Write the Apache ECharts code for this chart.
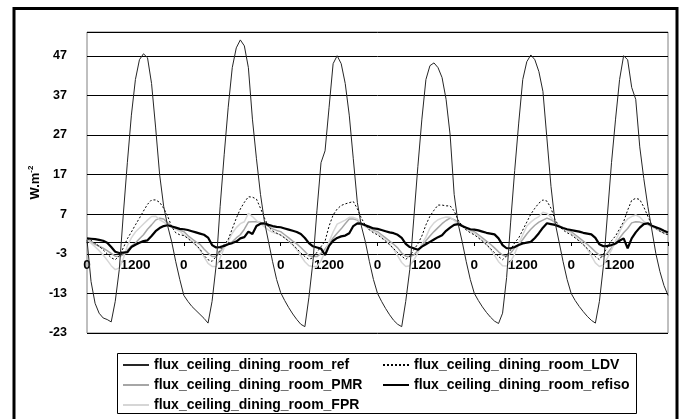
<!DOCTYPE html>
<html>
<head>
<meta charset="utf-8">
<script src="https://cdn.jsdelivr.net/npm/echarts@6/dist/echarts.min.js"></script>
<style>
  html, body { margin: 0; padding: 0; background: #fff; }
  #chart { width: 685px; height: 419px; }
</style>
</head>
<body>
<div id="chart"></div>
<script>
// hour labels of one day, repeated for the 6 days (+ closing midnight)
const hourLabels = ['0','100','200','300','400','500','600','700','800','900','1000','1100',
  '1200','1300','1400','1500','1600','1700','1800','1900','2000','2100','2200','2300'];
const categories = [];
for (let d = 0; d < 6; d++) categories.push(...hourLabels);
categories.push('0');

const yTicks = [-23, -13, -3, 7, 17, 27, 37, 47];

// W.m-2, one value per hour
const fluxRef = [
  0.5, -10, -15.5, -18, -19.2, -19.6, -20.2, -15, -7, 7, 20, 32, 41, 46, 47.5, 46.5, 40, 29, 17, 9, 4, 0, -5, -9.5,
  -13.5, -15, -16.3, -17.3, -18.3, -19.3, -20.5, -15, -6, 9, 22, 34, 44, 49, 51, 49.5, 44, 31, 21, 12, 5, 0, -5, -9.5,
  -12.8, -14.8, -16.6, -18.2, -19.6, -20.8, -21.4, -14, -5, 8, 20, 23, 34, 45, 47, 45, 40, 32, 21, 10, 4, 0, -5, -9.5,
  -13, -15, -16.8, -18.4, -19.8, -20.8, -21.4, -15, -7, 6, 19, 31, 41, 44.5, 45.2, 44, 41.5, 36, 27, 12, 4.5, 0, -5, -9.5,
  -13, -14.8, -16.4, -17.8, -19, -20, -20.6, -18, -9, 5, 18, 30, 41, 45.5, 47.2, 46, 43, 38, 26, 14, 5, 0, -5, -9.5,
  -13, -14.8, -16.3, -17.6, -18.8, -19.8, -20.5, -15, -6, 7, 20, 31, 41, 47, 46, 39, 36, 24, 16, 9, 3, -3, -7.5, -11,
  -13.5
];
const fluxLDV = [
  0.9, 0.4, -0.3, -1.1, -2.0, -3.0, -4.0, -4.5, -3.5, -1.5, 0.8, 2.5, 4.3, 6.0, 7.8, 9.5, 10.6, 10.6, 10.0, 8.5, 6.5, 3.8, 2.3, 1.8,
  1.6, 0.9, 0, -0.8, -1.8, -3.4, -4.5, -4.9, -3.7, -2.0, -0.6, 0.6, 3.3, 6.0, 8.3, 10.0, 11.4, 11.3, 10.8, 8.5, 6.0, 3.8, 2.8, 2.2,
  1.7, 1.0, 0.2, -0.7, -1.7, -2.8, -3.7, -4.4, -4.0, -2.6, -1.2, 0.2, 4.0, 6.8, 8.3, 9.2, 9.6, 9.9, 10.2, 8.4, 6.0, 4.2, 3.0, 2.3,
  1.8, 1.0, 0.2, -0.7, -1.7, -2.7, -3.6, -4.4, -3.6, -2.0, -0.5, 1.5, 4.3, 6.5, 8.0, 9.3, 9.3, 9.1, 9.1, 7.8, 5.5, 4.0, 3.0, 2.3,
  1.8, 1.0, 0.2, -0.7, -1.7, -2.7, -3.7, -4.5, -3.5, -2.0, -0.2, 1.0, 3.0, 5.0, 7.0, 8.5, 9.8, 10.6, 10.3, 8.5, 5.6, 4.0, 3.0, 2.3,
  1.8, 1.0, 0.2, -0.7, -1.7, -2.7, -3.7, -4.5, -3.0, -1.3, 0.3, 1.5, 3.3, 5.1, 8.0, 10.5, 11.0, 10.7, 8.8, 6.5, 4.2, 3.4, 2.7, 2.2,
  1.8
];
const fluxPMR = [
  0.5, 0, -0.6, -1.1, -1.6, -2.2, -2.9, -3.6, -3.7, -3.2, -2.1, -1.0, -0.3, 0.8, 1.8, 3.2, 4.3, 5.5, 6.0, 5.8, 4.8, 4.0, 3.3, 2.9,
  2.6, 1.6, 0.8, 0, -0.6, -1.8, -2.8, -3.7, -3.6, -2.5, -1.2, -0.5, 0, 1.0, 1.8, 3.2, 5.0, 5.1, 5.1, 4.9, 4.5, 3.9, 3.3, 2.9,
  2.6, 1.8, 1.0, 0.2, -0.5, -1.4, -2.4, -3.5, -3.7, -3.7, -2.9, -1.8, -0.5, 1.0, 2.2, 3.3, 4.6, 5.8, 5.8, 5.5, 4.6, 3.9, 3.3, 2.9,
  2.6, 1.8, 1.0, 0.2, -0.6, -1.5, -2.8, -3.6, -3.7, -3.3, -2.2, -1.0, 0.3, 1.5, 2.6, 3.6, 4.6, 5.4, 6.0, 5.6, 5.0, 4.2, 3.4, 2.9,
  2.6, 1.8, 1.0, 0.2, -0.6, -1.5, -2.5, -3.3, -3.7, -2.8, -1.5, -0.6, 0.6, 2.0, 3.2, 4.2, 5.0, 5.5, 6.0, 5.6, 4.9, 4.1, 3.4, 2.9,
  2.6, 1.8, 1.0, 0.2, -0.6, -1.5, -2.5, -3.3, -3.7, -2.8, -1.5, -0.4, 1.0, 2.3, 3.4, 4.8, 5.1, 5.0, 4.7, 4.4, 3.9, 3.4, 2.8, 2.3,
  2.0
];
const fluxRefiso = [
  0.9, 0.8, 0.7, 0.5, 0.3, -0.2, -1.3, -2.5, -2.8, -2.7, -2.6, -1.3, -0.7, -0.2, 0.2, 0.4, 1.5, 2.7, 3.5, 4.0, 4.2, 3.9, 3.6, 3.3,
  3.2, 3.0, 2.7, 2.4, 2.1, 1.8, 1.1, -0.8, -1.4, -1.3, -1.0, -0.6, -0.3, 0.1, 0.9, 1.2, 2.6, 2.0, 4.0, 4.6, 4.7, 4.3, 4.0, 3.8,
  3.7, 3.4, 3.1, 2.8, 2.5, 2.0, 1.0, -0.3, -1.1, -1.4, -1.7, -3.3, -1.0, 0.3, 1.0, 1.4, 1.6, 2.2, 4.0, 4.7, 4.6, 4.2, 3.8, 3.4,
  3.3, 3.0, 2.7, 2.4, 2.2, 1.8, 1.0, -0.5, -1.3, -1.6, -2.0, -1.2, -0.6, 0.0, 0.6, 1.2, 1.7, 2.8, 3.6, 4.3, 4.5, 4.0, 3.6, 3.2,
  3.1, 2.9, 2.6, 2.3, 2.1, 1.9, 0.9, -0.8, -1.6, -1.6, -1.3, -0.8, -0.4, -0.2, 0.0, 1.0, 2.2, 3.6, 4.7, 4.5, 4.3, 3.9, 3.5, 3.2,
  3.0, 2.8, 2.6, 2.3, 2.1, 1.9, 1.0, -0.6, -1.1, -1.0, -0.8, -0.4, 0.3, 0.9, -1.6, 0.9, 2.4, 3.6, 4.5, 4.7, 4.1, 3.7, 3.3, 2.8,
  2.4
];
const fluxFPR = [
  0.5, -0.3, -1.2, -2.2, -3.3, -4.6, -6.0, -7.0, -6.6, -4.2, -1.0, 1.0, 2.5, 3.5, 4.5, 5.5, 6.4, 6.5, 5.6, 5.0, 4.4, 3.8, 3.2, 2.7,
  1.8, 1.0, 0.2, -0.8, -2.0, -3.8, -5.4, -6.2, -6.2, -4.0, -1.5, 0.2, 2.2, 3.6, 4.6, 5.1, 7.2, 6.4, 5.4, 4.6, 3.8, 3.0, 2.4, 2.1,
  1.8, 1.0, 0.2, -0.8, -2.0, -3.5, -5.0, -6.0, -6.2, -6.2, -4.8, -2.5, 0.0, 2.5, 4.5, 5.0, 5.5, 6.2, 6.2, 5.8, 4.8, 4.0, 3.2, 2.6,
  2.2, 1.3, 0.4, -0.6, -1.8, -3.5, -5.2, -6.2, -6.0, -4.6, -2.8, -0.5, 1.2, 3.5, 4.8, 5.6, 6.0, 6.3, 6.2, 5.4, 4.6, 3.9, 3.2, 2.6,
  2.2, 1.3, 0.4, -0.6, -1.8, -3.4, -5.0, -6.0, -6.1, -5.0, -3.0, -0.5, 1.8, 4.0, 5.0, 5.8, 6.4, 7.5, 7.2, 6.2, 5.0, 4.2, 3.4, 2.7,
  2.2, 1.3, 0.4, -0.6, -1.8, -3.5, -5.3, -6.2, -5.8, -4.0, -2.0, 0.3, 2.5, 4.6, 5.8, 6.4, 6.8, 6.3, 5.2, 4.5, 3.8, 3.3, 2.7, 2.2,
  1.8
];

const FONT = '"Liberation Sans", Arial, sans-serif';
const N_REF = 'flux_ceiling_dining_room_ref';
const N_LDV = 'flux_ceiling_dining_room_LDV';
const N_PMR = 'flux_ceiling_dining_room_PMR';
const N_REFISO = 'flux_ceiling_dining_room_refiso';
const N_FPR = 'flux_ceiling_dining_room_FPR';

const chart = echarts.init(document.getElementById('chart'), null, { renderer: 'canvas' });

// two legend columns, rows 20px apart
const legendBase = {
  type: 'plain',
  orient: 'vertical',
  top: 358,
  padding: 0,
  itemWidth: 26,
  itemHeight: 14,
  itemGap: 6,
  selectedMode: false,
  itemStyle: { opacity: 0 },
  textStyle: { fontFamily: FONT, fontWeight: 'bold', fontSize: 14, lineHeight: 14, color: '#000' }
};

chart.setOption({
  animation: false,
  backgroundColor: '#fff',
  grid: {
    left: 87, right: 17, top: 32, bottom: 86,
    show: true, borderColor: '#808080', borderWidth: 1
  },
  legend: [
    Object.assign({ left: 122, data: [N_REF, N_PMR, N_FPR] }, legendBase),
    Object.assign({ left: 382, data: [N_LDV, N_REFISO] }, legendBase)
  ],
  xAxis: {
    type: 'category',
    data: categories,
    boundaryGap: false,
    position: 'bottom',
    offset: -91, // axis sits on y = 0
    axisLine: { onZero: false, lineStyle: { color: '#000', width: 1 } },
    axisTick: {
      show: true, length: 4,
      interval: (i) => i % 24 === 0,
      lineStyle: { color: '#000' }
    },
    axisLabel: {
      interval: (i) => i % 12 === 0 && i < 144,
      margin: 16,
      fontFamily: FONT, fontWeight: 'bold', fontSize: 13.5, color: '#000'
    },
    splitLine: { show: false }
  },
  yAxis: {
    type: 'value',
    min: -23, max: 53, interval: 10,
    name: '{a|W.m}{b|-2}',
    nameLocation: 'middle',
    nameGap: 44,
    nameMoveOverlap: false,
    nameTextStyle: {
      rich: {
        a: { fontFamily: FONT, fontWeight: 'bold', fontSize: 13, color: '#000', lineHeight: 16 },
        b: { fontFamily: FONT, fontWeight: 'bold', fontSize: 8, color: '#000', lineHeight: 16, verticalAlign: 'top' }
      }
    },
    axisLine: { show: false },
    axisTick: { show: false },
    axisLabel: {
      showMaxLabel: false,
      margin: 20,
      formatter: (v) => (yTicks.indexOf(v) >= 0 ? String(v) : ''),
      fontFamily: FONT, fontWeight: 'bold', fontSize: 12.5, color: '#000'
    },
    splitLine: { lineStyle: { color: '#000', width: 1 } }
  },
  series: [
    { name: N_PMR, type: 'line', data: fluxPMR, symbol: 'none',
      lineStyle: { color: '#a6a6a6', width: 1.5 }, itemStyle: { color: '#a6a6a6' } },
    { name: N_FPR, type: 'line', data: fluxFPR, symbol: 'none',
      lineStyle: { color: '#d6d6d6', width: 1.5 }, itemStyle: { color: '#d6d6d6' } },
    { name: N_LDV, type: 'line', data: fluxLDV, symbol: 'none',
      lineStyle: { color: '#000', width: 1, type: [2, 2] }, itemStyle: { color: '#000' } },
    { name: N_REFISO, type: 'line', data: fluxRefiso, symbol: 'none',
      lineStyle: { color: '#000', width: 2.2 }, itemStyle: { color: '#000' } },
    { name: N_REF, type: 'line', data: fluxRef, symbol: 'none',
      lineStyle: { color: '#262626', width: 1 }, itemStyle: { color: '#262626' } }
  ],
  graphic: [
    { type: 'rect', silent: true, z: 100,
      shape: { x: 14, y: 8.5, width: 663, height: 420 },
      style: { fill: 'none', stroke: '#000', lineWidth: 3 } },
    { type: 'rect', silent: true, z: 100,
      shape: { x: 117.5, y: 353.5, width: 519, height: 60 },
      style: { fill: 'none', stroke: '#000', lineWidth: 1 } }
  ]
});
</script>
</body>
</html>
